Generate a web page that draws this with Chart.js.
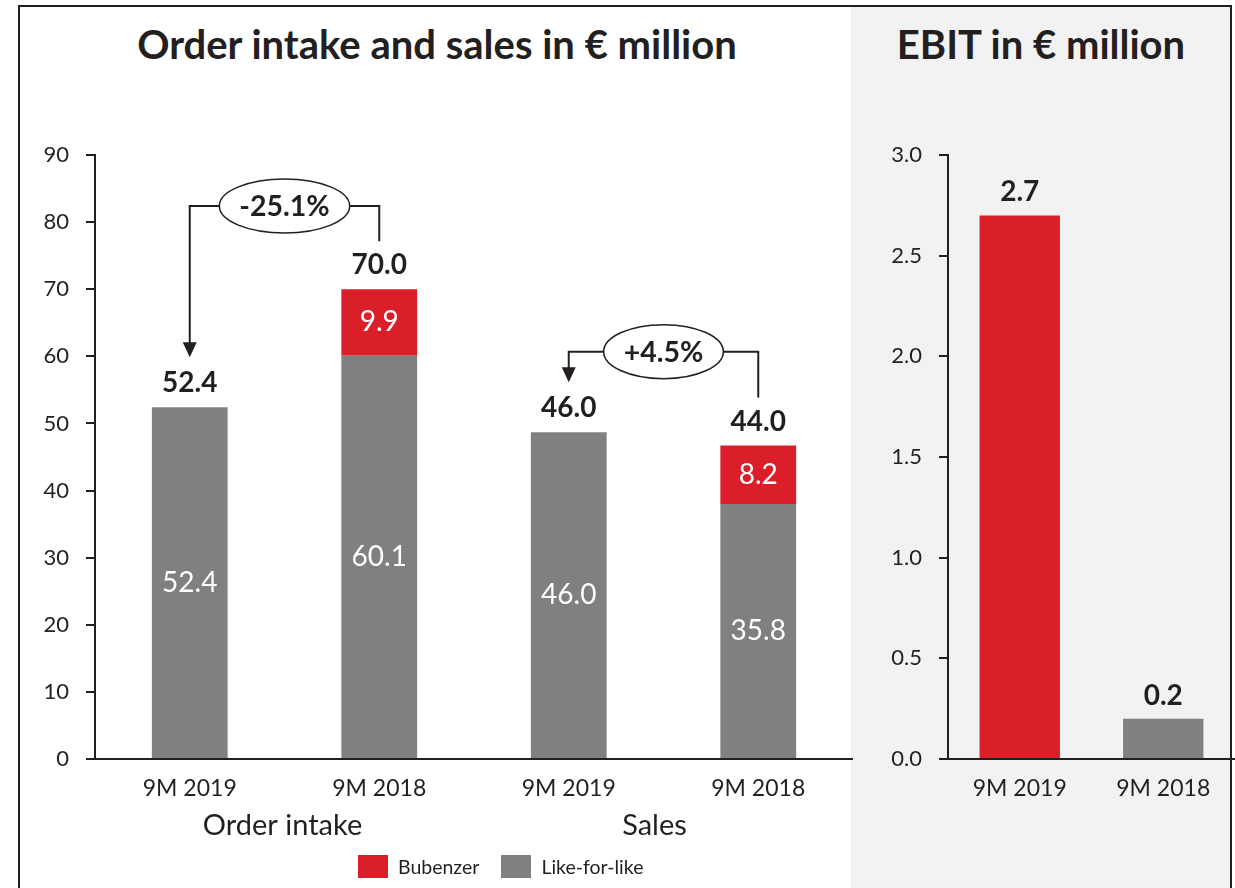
<!DOCTYPE html>
<html lang="en">
<head>
<meta charset="UTF-8">
<title>Order intake, sales and EBIT</title>
<style>
  body { margin: 0; background: #fff; font-family: Lato, sans-serif; color: #231f20; }
  #ebitBg { position: absolute; left: 851px; top: 7px; width: 379px; height: 881px; background: #f2f2f2; }
  #frame { position: absolute; left: 18px; top: 5px; width: 1214px; height: 900px; border: 2px solid #231f20; box-sizing: border-box; z-index: 5; pointer-events: none; }
  .title { position: absolute; top: 20px; font-weight: bold; font-size: 40px; white-space: nowrap; transform: translateX(-50%); }
  canvas { position: absolute; top: 0; }
  #legend { position: absolute; left: 358px; top: 855px; font-size: 19.5px; display: flex; align-items: center; }
  #legend span.box { display: inline-block; width: 30px; height: 23px; margin-right: 10px; }
  #legend span.txt { margin-right: 22px; }
</style>
</head>
<body>
<div id="ebitBg"></div>
<div id="frame"></div>
<div class="title" style="left:437px">Order intake and sales in € million</div>
<div class="title" style="left:1041px">EBIT in € million</div>
<canvas id="mainChart" width="853" height="888" style="left:0"></canvas>
<canvas id="ebitChart" width="382" height="888" style="left:853px"></canvas>
<div id="legend">
  <span class="box" style="background:#da1f2b"></span><span class="txt">Bubenzer</span>
  <span class="box" style="background:#808080"></span><span class="txt">Like-for-like</span>
</div>

<script src="https://cdn.jsdelivr.net/npm/chart.js"></script>
<script>
// categories
const categories = ['9M 2019', '9M 2018', '9M 2019', '9M 2018'];
const groups = [
  { name: 'Order intake', first: 0, last: 1, shift: -2 },
  { name: 'Sales', first: 2, last: 3, shift: -9 }
];
// bar heights as drawn
const likeForLike = [52.4, 60.1, 48.7, 38.0];
const bubenzer = [null, 9.9, null, 8.7];
// printed labels
const likeForLikeLabels = ['52.4', '60.1', '46.0', '35.8'];
const bubenzerLabels = [null, '9.9', null, '8.2'];
const totalLabels = ['52.4', '70.0', '46.0', '44.0'];
// change callouts
const changes = [
  { from: 1, to: 0, text: '-25.1%', level: 82.4 },
  { from: 3, to: 2, text: '+4.5%', level: 60.7 }
];

const ebitCategories = ['9M 2019', '9M 2018'];
const ebitValues = [2.7, 0.2];
const ebitLabels = ['2.7', '0.2'];

const RED = '#da1f2b';
const GREY = '#808080';
const INK = '#231f20';
const FONT = 'Lato, sans-serif';

Chart.defaults.font.family = FONT;
Chart.defaults.color = INK;

function total(i) {
  return (likeForLike[i] || 0) + (bubenzer[i] || 0);
}

const mainLabels = {
  id: 'mainLabels',
  afterDatasetsDraw(chart) {
    const ctx = chart.ctx;
    const x = chart.scales.x, y = chart.scales.y;
    ctx.save();
    ctx.textAlign = 'center';
    ctx.textBaseline = 'middle';

    // values inside the segments
    ctx.fillStyle = '#fff';
    ctx.font = '28px ' + FONT;
    [[0, likeForLikeLabels], [1, bubenzerLabels]].forEach(([di, labels]) => {
      chart.getDatasetMeta(di).data.forEach((bar, i) => {
        if (!labels[i]) return;
        ctx.fillText(labels[i], bar.x, (bar.y + bar.base) / 2);
      });
    });

    // totals above the bars
    ctx.fillStyle = INK;
    ctx.font = 'bold 28px ' + FONT;
    categories.forEach((c, i) => {
      ctx.fillText(totalLabels[i], x.getPixelForValue(i), y.getPixelForValue(total(i)) - 24);
    });

    // group names under the ticks
    ctx.font = '29px ' + FONT;
    groups.forEach(g => {
      const cx = (x.getPixelForValue(g.first) + x.getPixelForValue(g.last)) / 2 + g.shift;
      ctx.fillText(g.name, cx, 826);
    });

    // change callouts
    ctx.strokeStyle = INK;
    ctx.lineWidth = 2;
    changes.forEach(c => {
      const xf = x.getPixelForValue(c.from), xt = x.getPixelForValue(c.to);
      const yl = y.getPixelForValue(c.level);
      const yStart = y.getPixelForValue(total(c.from)) - 48;
      const yTip = y.getPixelForValue(total(c.to)) - 50;
      const cx = (xf + xt) / 2;
      ctx.font = 'bold 28.5px ' + FONT;
      const rx = ctx.measureText(c.text).width / 2 + 20, ry = 27;

      ctx.beginPath();
      ctx.moveTo(xf, yStart);
      ctx.lineTo(xf, yl);
      ctx.lineTo(cx + rx, yl);
      ctx.moveTo(cx - rx, yl);
      ctx.lineTo(xt, yl);
      ctx.lineTo(xt, yTip - 14);
      ctx.stroke();

      ctx.beginPath();
      ctx.moveTo(xt - 7, yTip - 15);
      ctx.lineTo(xt + 7, yTip - 15);
      ctx.lineTo(xt, yTip);
      ctx.closePath();
      ctx.fillStyle = INK;
      ctx.fill();

      ctx.beginPath();
      ctx.ellipse(cx, yl, rx, ry, 0, 0, Math.PI * 2);
      ctx.fillStyle = '#fff';
      ctx.fill();
      ctx.lineWidth = 1.5;
      ctx.stroke();
      ctx.lineWidth = 2;
      ctx.fillStyle = INK;
      ctx.fillText(c.text, cx, yl + 1);
    });
    ctx.restore();
  }
};

const axisStyle = {
  grid: { display: true, drawOnChartArea: false, drawTicks: true, tickLength: 9, color: INK, lineWidth: 2 },
  border: { display: true, color: INK, width: 2 }
};

new Chart(document.getElementById('mainChart'), {
  type: 'bar',
  data: {
    labels: categories,
    datasets: [
      { label: 'Like-for-like', data: likeForLike, backgroundColor: GREY },
      { label: 'Bubenzer', data: bubenzer, backgroundColor: RED }
    ]
  },
  options: {
    responsive: false,
    animation: false,
    layout: { padding: { top: 155, bottom: 69, left: 0, right: 0 } },
    datasets: { bar: { barPercentage: 0.4, categoryPercentage: 1 } },
    plugins: { legend: { display: false }, tooltip: { enabled: false } },
    scales: {
      x: {
        stacked: true,
        grid: { display: false },
        border: { display: true, color: INK, width: 2 },
        ticks: { font: { size: 23 }, color: INK, padding: 8 },
        afterFit: s => { s.height = 60; }
      },
      y: {
        stacked: true,
        min: 0, max: 90,
        ...axisStyle,
        ticks: { stepSize: 10, font: { size: 22 }, color: INK, padding: 17 },
        afterFit: s => { s.width = 95; }
      }
    }
  },
  plugins: [mainLabels]
});

const ebitValueLabels = {
  id: 'ebitValueLabels',
  afterDatasetsDraw(chart) {
    const ctx = chart.ctx;
    ctx.save();
    ctx.textAlign = 'center';
    ctx.textBaseline = 'middle';
    ctx.fillStyle = INK;
    ctx.font = 'bold 28px ' + FONT;
    chart.getDatasetMeta(0).data.forEach((bar, i) => {
      ctx.fillText(ebitLabels[i], bar.x, bar.y - 23);
    });
    ctx.restore();
  }
};

new Chart(document.getElementById('ebitChart'), {
  type: 'bar',
  data: {
    labels: ebitCategories,
    datasets: [{ label: 'EBIT', data: ebitValues, backgroundColor: [RED, GREY] }]
  },
  options: {
    responsive: false,
    animation: false,
    layout: { padding: { top: 155, bottom: 69, left: 0, right: 0 } },
    datasets: { bar: { barPercentage: 0.56, categoryPercentage: 1 } },
    plugins: { legend: { display: false }, tooltip: { enabled: false } },
    scales: {
      x: {
        grid: { display: false },
        border: { display: true, color: INK, width: 2 },
        ticks: { font: { size: 23 }, color: INK, padding: 8 },
        afterFit: s => { s.height = 60; }
      },
      y: {
        min: 0, max: 3,
        ...axisStyle,
        ticks: { stepSize: 0.5, font: { size: 22 }, color: INK, padding: 17, callback: v => v.toFixed(1) },
        afterFit: s => { s.width = 95; }
      }
    }
  },
  plugins: [ebitValueLabels]
});
</script>
</body>
</html>
